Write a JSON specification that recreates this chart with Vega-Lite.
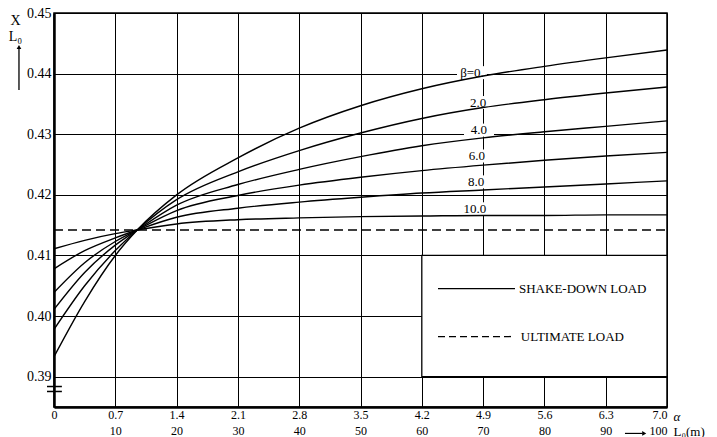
{
  "$schema": "https://vega.github.io/schema/vega-lite/v6.json",
  "width": 613,
  "height": 394,
  "autosize": {"type": "none"},
  "padding": {"left": 54, "top": 13, "right": 50, "bottom": 30},
  "background": "white",
  "config": {
    "view": {"stroke": "black", "strokeWidth": 1.5},
    "font": "Liberation Serif",
    "axis": {"labelColor": "black", "titleColor": "black", "domainColor": "black", "gridColor": "black", "gridOpacity": 1}
  },
  "resolve": {"axis": {"x": "independent"}},
  "datasets": {
    "curves": [
      {"b": "0", "x": 0, "y": 0.3933}, {"b": "0", "x": 0.35, "y": 0.4024}, {"b": "0", "x": 0.7, "y": 0.4100}, {"b": "0", "x": 0.95, "y": 0.4142}, {"b": "0", "x": 1.4, "y": 0.4200}, {"b": "0", "x": 2.1, "y": 0.4261}, {"b": "0", "x": 2.8, "y": 0.4310}, {"b": "0", "x": 3.5, "y": 0.4347}, {"b": "0", "x": 4.2, "y": 0.4375}, {"b": "0", "x": 4.9, "y": 0.4396}, {"b": "0", "x": 5.6, "y": 0.4412}, {"b": "0", "x": 6.3, "y": 0.4426}, {"b": "0", "x": 7.0, "y": 0.4439},
      {"b": "2", "x": 0, "y": 0.3978}, {"b": "2", "x": 0.35, "y": 0.4050}, {"b": "2", "x": 0.7, "y": 0.4108}, {"b": "2", "x": 0.95, "y": 0.4142}, {"b": "2", "x": 1.4, "y": 0.4192}, {"b": "2", "x": 2.1, "y": 0.4238}, {"b": "2", "x": 2.8, "y": 0.4273}, {"b": "2", "x": 3.5, "y": 0.4302}, {"b": "2", "x": 4.2, "y": 0.4326}, {"b": "2", "x": 4.9, "y": 0.4344}, {"b": "2", "x": 5.6, "y": 0.4357}, {"b": "2", "x": 6.3, "y": 0.4368}, {"b": "2", "x": 7.0, "y": 0.4378},
      {"b": "4", "x": 0, "y": 0.4011}, {"b": "4", "x": 0.35, "y": 0.4072}, {"b": "4", "x": 0.7, "y": 0.4117}, {"b": "4", "x": 0.95, "y": 0.4142}, {"b": "4", "x": 1.4, "y": 0.4183}, {"b": "4", "x": 2.1, "y": 0.4217}, {"b": "4", "x": 2.8, "y": 0.4242}, {"b": "4", "x": 3.5, "y": 0.4263}, {"b": "4", "x": 4.2, "y": 0.4281}, {"b": "4", "x": 4.9, "y": 0.4294}, {"b": "4", "x": 5.6, "y": 0.4304}, {"b": "4", "x": 6.3, "y": 0.4313}, {"b": "4", "x": 7.0, "y": 0.4322},
      {"b": "6", "x": 0, "y": 0.4039}, {"b": "6", "x": 0.35, "y": 0.4088}, {"b": "6", "x": 0.7, "y": 0.4123}, {"b": "6", "x": 0.95, "y": 0.4142}, {"b": "6", "x": 1.4, "y": 0.4174}, {"b": "6", "x": 2.1, "y": 0.4199}, {"b": "6", "x": 2.8, "y": 0.4216}, {"b": "6", "x": 3.5, "y": 0.4229}, {"b": "6", "x": 4.2, "y": 0.4240}, {"b": "6", "x": 4.9, "y": 0.4249}, {"b": "6", "x": 5.6, "y": 0.4257}, {"b": "6", "x": 6.3, "y": 0.4264}, {"b": "6", "x": 7.0, "y": 0.4270},
      {"b": "8", "x": 0, "y": 0.4078}, {"b": "8", "x": 0.35, "y": 0.4108}, {"b": "8", "x": 0.7, "y": 0.4129}, {"b": "8", "x": 0.95, "y": 0.4142}, {"b": "8", "x": 1.4, "y": 0.4163}, {"b": "8", "x": 2.1, "y": 0.4178}, {"b": "8", "x": 2.8, "y": 0.4188}, {"b": "8", "x": 3.5, "y": 0.4196}, {"b": "8", "x": 4.2, "y": 0.4203}, {"b": "8", "x": 4.9, "y": 0.4208}, {"b": "8", "x": 5.6, "y": 0.4213}, {"b": "8", "x": 6.3, "y": 0.4218}, {"b": "8", "x": 7.0, "y": 0.4223},
      {"b": "10", "x": 0, "y": 0.4111}, {"b": "10", "x": 0.35, "y": 0.4125}, {"b": "10", "x": 0.7, "y": 0.4136}, {"b": "10", "x": 0.95, "y": 0.4142}, {"b": "10", "x": 1.4, "y": 0.4152}, {"b": "10", "x": 2.1, "y": 0.4159}, {"b": "10", "x": 2.8, "y": 0.4162}, {"b": "10", "x": 3.5, "y": 0.4164}, {"b": "10", "x": 4.2, "y": 0.4165}, {"b": "10", "x": 4.9, "y": 0.4166}, {"b": "10", "x": 5.6, "y": 0.4166}, {"b": "10", "x": 6.3, "y": 0.4167}, {"b": "10", "x": 7.0, "y": 0.4167}
    ],
    "ult": [{"x": 0, "x2": 7, "y": 0.4142}],
    "box": [{"x": 4.2, "x2": 7, "y": 0.39, "y2": 0.41}],
    "labels": [
      {"x": 4.773, "y": 0.44016, "t": "β=0."},
      {"x": 4.842, "y": 0.43523, "t": "2.0"},
      {"x": 4.853, "y": 0.43068, "t": "4.0"},
      {"x": 4.830, "y": 0.42641, "t": "6.0"},
      {"x": 4.819, "y": 0.42214, "t": "8.0"},
      {"x": 4.807, "y": 0.41770, "t": "10.0"}
    ],
    "legline": [
      {"x": 4.385, "x2": 5.264, "y": 0.40453, "k": "solid"},
      {"x": 4.385, "x2": 5.23, "y": 0.39662, "k": "dash"}
    ],
    "legtext": [
      {"x": 5.31, "y": 0.40453, "t": "SHAKE-DOWN LOAD"},
      {"x": 5.33, "y": 0.39662, "t": "ULTIMATE LOAD"}
    ],
    "breaks": [
      {"x": -0.08, "x2": 0.09, "y": 0.38838},
      {"x": -0.08, "x2": 0.09, "y": 0.38756}
    ],
    "varrow": [{"x": -0.40, "y": 0.4373, "y2": 0.4444}],
    "harrow": [{"x": 6.52, "x2": 6.72, "y": 0.38064}],
    "heads": [
      {"x": -0.40, "y": 0.4444, "s": "triangle-up"},
      {"x": 6.74, "y": 0.38064, "s": "triangle-right"}
    ]
  },
  "encoding": {
    "x": {
      "field": "x", "type": "quantitative",
      "scale": {"domain": [0, 7], "nice": false, "zero": false},
      "axis": null
    },
    "y": {
      "field": "y", "type": "quantitative",
      "scale": {"domain": [0.385, 0.45], "nice": false, "zero": false},
      "axis": {
        "values": [0.39, 0.40, 0.41, 0.42, 0.43, 0.44, 0.45],
        "format": ".2f",
        "labelFontSize": 14, "labelPadding": 3, "labelFlush": false, "labelOverlap": false,
        "ticks": false, "grid": true, "gridWidth": 1, "domainWidth": 2.5,
        "title": ["X", "L₀"], "titleX": -39, "titleY": 0, "titleAngle": 0, "titleAlign": "center",
        "titleBaseline": "top", "titleFontSize": 14, "titleFontWeight": "normal", "titleLineHeight": 16
      }
    }
  },
  "layer": [
    {
      "data": {"name": "box"},
      "mark": {"type": "rect", "fill": "white", "stroke": "black", "strokeWidth": 1.3},
      "encoding": {
        "x": {
          "field": "x", "type": "quantitative",
          "scale": {"domain": [0, 7], "nice": false, "zero": false},
          "axis": {
            "orient": "bottom",
            "values": [0, 0.7, 1.4, 2.1, 2.8, 3.5, 4.2, 4.9, 5.6, 6.3, 7],
            "labelExpr": "datum.value == 0 ? '0' : format(datum.value, '.1f')",
            "labelAlign": {"condition": {"test": "datum.value == 7", "value": "right"}, "value": "center"},
            "labelFontSize": 12, "labelPadding": 2, "labelFlush": false, "labelOverlap": false,
            "ticks": false, "grid": true, "gridWidth": 1, "domainWidth": 2.5,
            "title": "α", "titleX": 619, "titleY": 3, "titleAlign": "left", "titleBaseline": "top",
            "titleAngle": 0, "titleFontSize": 13, "titleFontWeight": "normal", "titleFontStyle": "italic"
          }
        },
        "x2": {"field": "x2"}, "y2": {"field": "y2"}
      }
    },
    {
      "data": {"name": "labels"},
      "mark": {"type": "point", "shape": "M-1.5,-0.65H1.5V0.65H-1.5Z", "size": 400, "filled": true, "fill": "white", "strokeWidth": 0, "opacity": 1}
    },
    {
      "data": {"name": "curves"},
      "mark": {"type": "line", "color": "black", "strokeWidth": 1.4, "interpolate": "monotone"},
      "encoding": {"detail": {"field": "b"}}
    },
    {
      "data": {"name": "ult"},
      "mark": {"type": "rule", "color": "black", "strokeWidth": 1.6, "strokeDash": [9, 5]},
      "encoding": {
        "x": {
          "field": "x", "type": "quantitative",
          "scale": {"domain": [0, 7], "nice": false, "zero": false},
          "axis": {
            "orient": "bottom",
            "values": [0.7, 1.4, 2.1, 2.8, 3.5, 4.2, 4.9, 5.6, 6.3, 7],
            "labelExpr": "format(round(datum.value / 0.07), 'd')",
            "labelAlign": {"condition": {"test": "datum.value == 7", "value": "right"}, "value": "center"},
            "labelFontSize": 12, "labelPadding": 18, "labelFlush": false, "labelOverlap": false,
            "ticks": false, "grid": false, "domain": false,
            "title": "L₀(m)", "titleX": 619, "titleY": 18, "titleAlign": "left", "titleBaseline": "top",
            "titleAngle": 0, "titleFontSize": 13, "titleFontWeight": "normal"
          }
        },
        "x2": {"field": "x2"}
      }
    },
    {
      "data": {"name": "legline"},
      "mark": {"type": "rule", "color": "black", "strokeWidth": 1.3},
      "encoding": {
        "x2": {"field": "x2"},
        "strokeDash": {"field": "k", "type": "nominal", "scale": {"domain": ["solid", "dash"], "range": [[1, 0], [7, 4]]}, "legend": null}
      }
    },
    {
      "data": {"name": "labels"},
      "mark": {"type": "text", "fontSize": 13, "color": "black", "align": "center", "baseline": "middle"},
      "encoding": {"text": {"field": "t"}}
    },
    {
      "data": {"name": "legtext"},
      "mark": {"type": "text", "fontSize": 13, "color": "black", "align": "left", "baseline": "middle"},
      "encoding": {"text": {"field": "t"}}
    },
    {
      "data": {"name": "breaks"},
      "mark": {"type": "rule", "color": "black", "strokeWidth": 1.5},
      "encoding": {"x2": {"field": "x2"}}
    },
    {
      "data": {"name": "varrow"},
      "mark": {"type": "rule", "color": "black", "strokeWidth": 1.3},
      "encoding": {"y2": {"field": "y2"}}
    },
    {
      "data": {"name": "harrow"},
      "mark": {"type": "rule", "color": "black", "strokeWidth": 1.2},
      "encoding": {"x2": {"field": "x2"}}
    },
    {
      "data": {"name": "heads"},
      "mark": {"type": "point", "filled": true, "color": "black", "size": 22, "opacity": 1},
      "encoding": {"shape": {"field": "s", "type": "nominal", "scale": null}}
    }
  ]
}
